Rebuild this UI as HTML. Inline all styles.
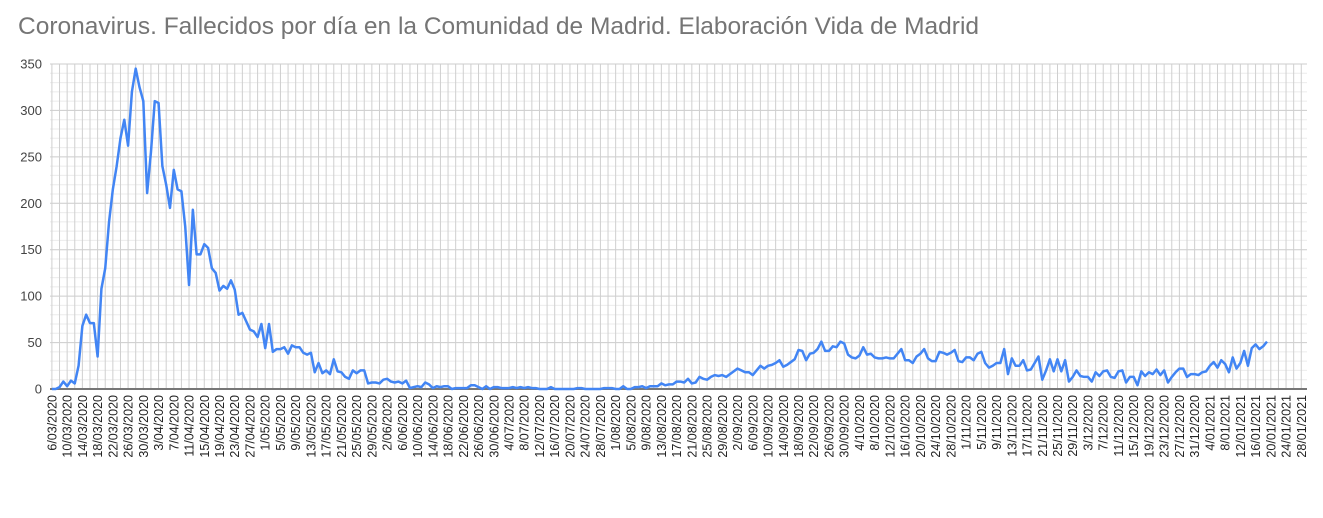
<!DOCTYPE html>
<html><head><meta charset="utf-8"><style>
body{margin:0;background:#fff;}
svg{display:block;font-family:"Liberation Sans",Arial,sans-serif;}
</style></head><body>
<svg id="chart" width="1323" height="518" xmlns="http://www.w3.org/2000/svg">
<text x="18" y="34" font-size="24.5" fill="#757575">Coronavirus. Fallecidos por día en la Comunidad de Madrid. Elaboración Vida de Madrid</text>
<g id="grid"></g><g id="ylabels"></g><g id="xlabels"></g><g id="series"></g>
</svg>
<script>
const startDate = [2020, 2, 6];
const categoryCount = 330;
const yTicks = [0, 50, 100, 150, 200, 250, 300, 350];
const deaths = [
0,0,2,8,3,9,6,25,68,80,71,71,35,108,130,180,215,240,270,290,262,320,345,325,310,211,255,310,308,240,
220,195,236,215,213,175,112,193,145,145,156,152,130,125,106,111,108,117,107,80,82,73,64,62,56,70,44,70,40,43,
43,45,38,47,45,45,39,37,39,18,
28,17,20,16,32,19,18,13,11,20,17,20,20,6,7,7,6,10,11,8,7,8,6,9,1,2,3,2,7,5,1,3,2,3,3,0,1,1,1,1,
4,4,2,0,3,0,2,2,1,1,1,2,1,2,1,2,1,1,0,0,0,2,0,0,0,0,
0,0,1,1,0,0,0,0,0,1,1,1,0,0,3,0,0,2,2,3,1,3,3,3,6,4,5,5,8,8,7,11,6,7,13,11,10,13,15,14,
15,13,16,19,22,20,18,18,15,20,25,22,25,26,28,31,24,26,29,32,
42,
41,31,38,39,43,51,41,41,46,45,51,49,37,34,33,36,45,37,38,34,33,33,34,33,33,38,43,31,31,28,
35,38,43,33,30,30,40,39,37,39,42,30,29,34,34,31,38,40,28,23,25,28,28,43,16,33,25,25,31,20,
21,28,35,
10,20,32,19,32,19,31,8,13,20,14,13,13,8,18,14,19,20,13,12,19,20,7,13,13,4,19,14,18,16,
21,15,20,7,13,18,22,22,13,16,16,15,18,19,25,29,23,31,27,18,34,22,28,41,25,44,48,43,46,51
];
const NS = "http://www.w3.org/2000/svg";
const L = 50, R = 1307, T = 64, B = 389, YMAX = 350;
const bw = (R - L) / categoryCount;
function xPos(i){ return L + (i + 0.5) * bw; }
function yPos(v){ return B - v / YMAX * (B - T); }
function mk(tag, attrs, parent){ const e = document.createElementNS(NS, tag); for (const k in attrs) e.setAttribute(k, attrs[k]); parent.appendChild(e); return e; }
const grid = document.getElementById('grid');
for (let v = 0; v <= YMAX; v += 10) {
  const ln = mk('line', {x1: L, x2: R, y1: yPos(v), y2: yPos(v), stroke: v % 50 === 0 ? '#cccccc' : '#ebebeb', 'stroke-width': 1}, grid);
  
  
}
for (let i = 0; i < categoryCount; i += 2) {
  const ln = mk('line', {x1: xPos(i), x2: xPos(i), y1: T, y2: B, stroke: '#cfcfcf', 'stroke-width': 1}, grid);
  
  
}
const yl = document.getElementById('ylabels');
yTicks.forEach(v => {
  const t = mk('text', {x: 42, y: yPos(v) + 4.5, 'text-anchor': 'end', 'font-size': 13, fill: '#444'}, yl);
  t.textContent = v;
  
  
});
const xl = document.getElementById('xlabels');
for (let i = 0; i < categoryCount; i += 4) {
  const d = new Date(startDate[0], startDate[1], startDate[2] + i);
  const lab = d.getDate() + '/' + String(d.getMonth() + 1).padStart(2, '0') + '/' + d.getFullYear();
  const x = xPos(i) + 4.5, y = 395;
  const t = mk('text', {x: x, y: y, 'text-anchor': 'end', 'font-size': 12.5, fill: '#222', transform: 'rotate(-90 ' + x + ' ' + y + ')'}, xl);
  t.textContent = lab;
  
  
}
const base = mk('line', {x1: L, x2: R, y1: B, y2: B, stroke: '#777', 'stroke-width': 2}, grid);


const pts = deaths.map((v, i) => xPos(i).toFixed(2) + ',' + yPos(v).toFixed(2)).join(' ');
const pl = mk('polyline', {points: pts, fill: 'none', stroke: '#4285F4', 'stroke-width': 2.5, 'stroke-linejoin': 'round'}, document.getElementById('series'));


</script>
</body></html>
